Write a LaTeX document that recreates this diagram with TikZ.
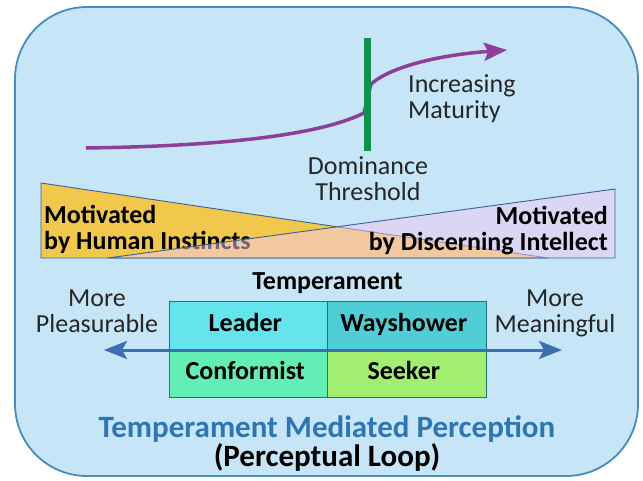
\documentclass[tikz,border=0pt]{standalone}
\usepackage{fontspec}
\setmainfont{Carlito}
\usetikzlibrary{matrix,arrows.meta,positioning}
\definecolor{panel}{RGB}{198,229,246}
\definecolor{panelrim}{RGB}{70,140,192}
\definecolor{maturity}{RGB}{140,62,152}
\definecolor{threshold}{RGB}{14,146,74}
\definecolor{instinct}{RGB}{242,200,76}
\definecolor{intellect}{RGB}{244,200,244}
\definecolor{wedgeline}{RGB}{58,96,150}
\definecolor{spread}{RGB}{62,110,176}
\definecolor{leadc}{RGB}{100,228,236}
\definecolor{wayc}{RGB}{80,206,214}
\definecolor{confc}{RGB}{98,238,180}
\definecolor{seekc}{RGB}{162,238,112}
\definecolor{cellrim}{RGB}{30,118,118}
\definecolor{titleblue}{RGB}{46,117,182}
\definecolor{ink}{RGB}{38,38,38}
\newcommand\titlefont{\fontsize{31}{26}\selectfont\bfseries}

\begin{document}
\begin{tikzpicture}[x=1pt,y=-1pt,
  plain/.style={font=\fontsize{26}{26}\selectfont, text=ink, inner sep=0pt, align=center},
  heavy/.style={plain, font=\fontsize{26}{26}\selectfont\bfseries, text=black},
  cell/.style={heavy, draw=cellrim, line width=1pt, minimum width=158.5pt, minimum height=47.5pt, text height=17pt, text depth=5pt},
  wedge/.style={draw=wedgeline, line width=0.9pt}]
  \useasboundingbox (0,0) rectangle (643,481);
  \draw[panelrim, line width=1.8pt, fill=panel, rounded corners=72pt] (15,7) rectangle (638,476);

  % maturity curve behind the threshold bar
  \coordinate (growth) at (86,148);
  \coordinate (mature) at (507,50);
  \draw[maturity, line width=3.5pt, -{Stealth[length=23pt,width=18pt,inset=4pt]}]
    (growth) .. controls (230,146) and (322,134) .. (364,113) -- (371,84)
    .. controls (392,66) and (440,55) .. (mature);
  \node[fill=threshold, minimum width=7pt, minimum height=113pt, inner sep=0pt] (bar) at (367,94.5) {};
  \node[plain, align=left, anchor=base west] (maturing) at (408,119) {Increasing\\Maturity};
  \node[plain, anchor=base] (dominance) at (368,201) {Dominance\\Threshold};

  % crossing wedges
  \filldraw[wedge, fill=instinct] (41,183) -- (41,258) -- (548,258) -- cycle;
  \node[heavy, align=left, anchor=base west] (instincts) at (44,250) {Motivated\\by Human Instincts};
  \filldraw[wedge, fill=intellect, fill opacity=0.49] (615,189) -- (615,258) -- (108,258) -- cycle;
  \node[heavy, align=right, anchor=base east] (intellect) at (608,251) {Motivated\\by Discerning Intellect};

  % temperament grid
  \matrix (m) [matrix of nodes, nodes={cell}, column sep=-1pt, row sep=-1pt] at (327.5,349.5)
  {
  |[fill=leadc]| Leader & |[fill=wayc]| Wayshower \\
  |[fill=confc]| Conformist & |[fill=seekc]| Seeker \\  };
  \node[heavy, above=4.5pt of m] (temper) {Temperament};
  \node[plain, anchor=base] (pleasure) at (97,333) {More\\Pleasurable};
  \node[plain, anchor=base] (meaning) at (555,333) {More\\Meaningful};
  \coordinate (pleasuretip) at (104,350);
  \coordinate (meaningtip) at (562,350);
  \draw[spread, line width=3pt, {Stealth[length=23pt,width=18pt,inset=5pt]}-{Stealth[length=23pt,width=18pt,inset=5pt]}]
    (pleasuretip) -- (meaningtip);

  \node[heavy, font=\titlefont, anchor=base] (title) at (327,466)
    {\lineskiplimit=-20pt\relax{\color{titleblue}Temperament Mediated Perception}\\(Perceptual Loop)};
\end{tikzpicture}
\end{document}
